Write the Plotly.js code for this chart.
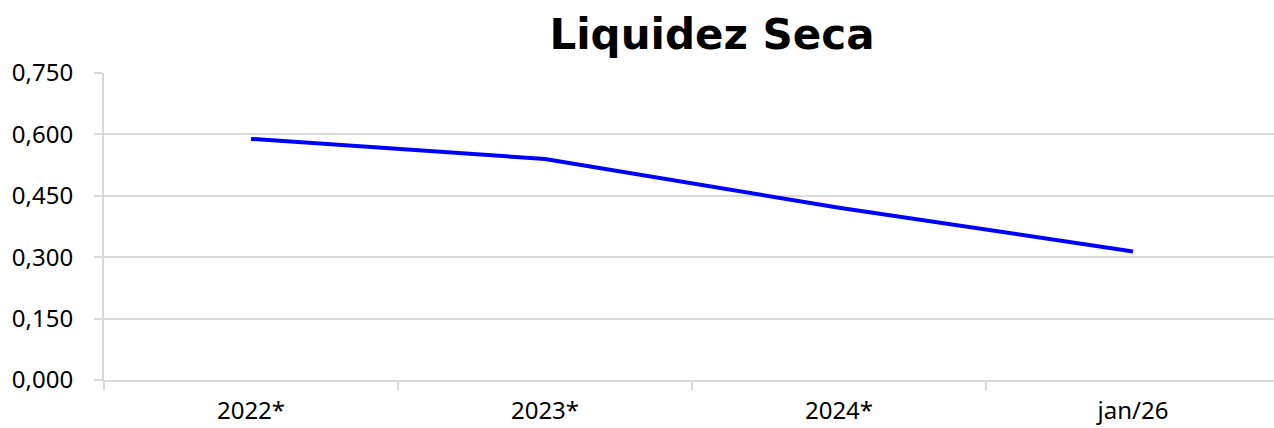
<!DOCTYPE html>
<html>
<head>
<meta charset="utf-8">
<script src="https://cdn.plot.ly/plotly-3.0.1.min.js"></script>
<style>html,body{margin:0;padding:0;background:#fff;}#chart{width:1274px;height:428px;}</style>
</head>
<body>
<div id="chart"></div>
<script>
const categories = ["2022*", "2023*", "2024*", "jan/26"];
const liquidezSeca = [0.589, 0.540, 0.421, 0.314];
const yTickValues = [0, 0.15, 0.30, 0.45, 0.60, 0.75];
const chartTitle = "Liquidez Seca";

const trace = {
  type: "scatter",
  mode: "lines",
  x: categories,
  y: liquidezSeca,
  line: {color: "#0000ff", width: 4},
  hoverinfo: "skip"
};

const tickFont = {family: "Noto Sans, DejaVu Sans, sans-serif", size: 24, color: "#000000"};

const layout = {
  width: 1274,
  height: 428,
  margin: {l: 104, r: 0, t: 73, b: 48, pad: 0},
  paper_bgcolor: "#ffffff",
  plot_bgcolor: "#ffffff",
  separators: ",.",
  showlegend: false,
  font: {family: "Noto Sans, DejaVu Sans, sans-serif", color: "#000000", size: 24},
  title: {
    text: chartTitle,
    font: {family: "DejaVu Sans, Verdana, sans-serif", size: 42, color: "#000000", weight: "bold"},
    x: 712 / 1274,
    xref: "container",
    xanchor: "center",
    y: 1 - 34 / 428,
    yref: "container",
    yanchor: "middle"
  },
  xaxis: {
    type: "category",
    range: [-0.5, 3.5 - 6 / 294],
    tickson: "boundaries",
    ticks: "outside",
    ticklen: 8,
    tickwidth: 2,
    tickcolor: "#d9d9d9",
    showgrid: false,
    showline: true,
    linecolor: "#d9d9d9",
    linewidth: 2,
    zeroline: false,
    ticklabelstandoff: 8,
    tickfont: tickFont
  },
  yaxis: {
    range: [0, 0.75],
    tickvals: yTickValues,
    tickformat: ".3f",
    ticks: "outside",
    ticklen: 8,
    tickwidth: 2,
    tickcolor: "#d9d9d9",
    showgrid: true,
    gridcolor: "#d9d9d9",
    gridwidth: 2,
    showline: true,
    linecolor: "#d9d9d9",
    linewidth: 2,
    zeroline: false,
    ticklabelstandoff: 16,
    tickfont: tickFont
  }
};

Plotly.newPlot("chart", [trace], layout, {displayModeBar: false, staticPlot: true});
</script>
</body>
</html>
